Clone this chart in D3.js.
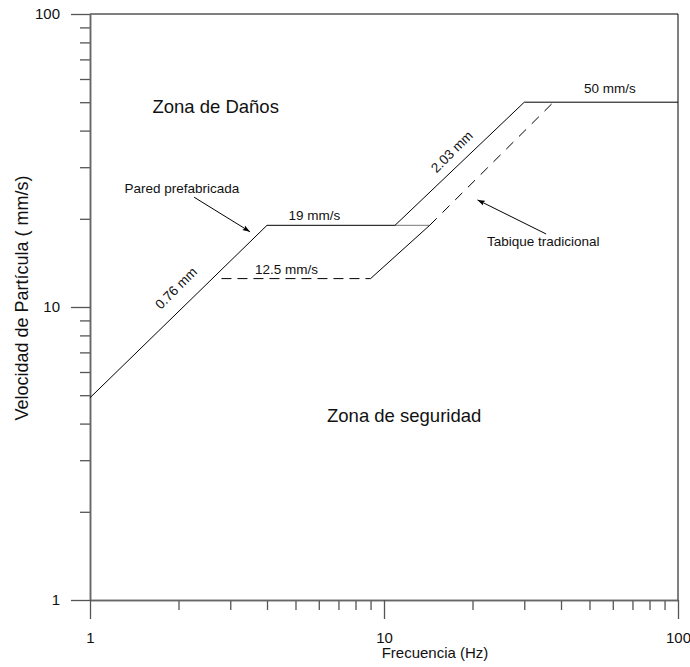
<!DOCTYPE html>
<html><head><meta charset="utf-8">
<script src="https://cdn.jsdelivr.net/npm/d3@7"></script>
<style>
body{margin:0;background:#fff}
text{font-family:"Liberation Sans",Arial,Helvetica,sans-serif;fill:#111}
</style>
</head><body>
<svg id="chart" width="690" height="667"></svg>
<script>
// ---- data ----
const xMajorTicks = [1, 10, 100];
const xMinorTicks = [2, 3, 4, 5, 6, 7, 8, 9, 20, 30, 40, 50, 60, 70, 80, 90];
const yMajorTicks = [1, 10, 100];
const yMinorTicks = [2, 3, 4, 5, 6, 7, 8, 9, 20, 30, 40, 50, 60, 70, 80, 90];

// Pared prefabricada (solid)
const prefabFreq = [1, 4, 10.9, 30, 100];
const prefabVel  = [4.9, 19, 19, 50, 50];

// Tabique tradicional
const tabDash1Freq = [2.8, 9];
const tabDash1Vel  = [12.5, 12.5];
const tabSolidFreq = [9, 14.3];
const tabSolidVel  = [12.5, 19];
const tabOverFreq  = [10.9, 14.3];
const tabOverVel   = [19, 19];
const tabDash2Freq = [14.3, 37.7];
const tabDash2Vel  = [19, 50];

// annotations (text, freq, vel)
const zoneLabels = [
  {t: "Zona de Daños", f: 1.63, v: 45.9},
  {t: "Zona de seguridad", f: 6.4, v: 4.05}
];
const lineLabels = [
  {t: "Pared prefabricada", f: 1.31, v: 24.4},
  {t: "19 mm/s", f: 4.73, v: 19.8},
  {t: "12.5 mm/s", f: 3.64, v: 12.96},
  {t: "50 mm/s", f: 47.9, v: 53.6},
  {t: "Tabique tradicional", f: 22.4, v: 16.2}
];
const slopeLabels = [
  {t: "0.76 mm", f: 1.96, v: 11.6},
  {t: "2.03 mm", f: 17.0, v: 33.9}
];
const arrows = [
  {f1: 2.26, v1: 23.7, f2: 3.50, v2: 18.07},
  {f1: 35.6, v1: 17.75, f2: 20.8, v2: 23.2}
];

// ---- drawing ----
const svg = d3.select("#chart");
const x = d3.scaleLog().domain([1, 100]).range([90, 678]);
const y = d3.scaleLog().domain([1, 100]).range([600, 14]);

svg.append("defs").append("marker")
  .attr("id", "ah").attr("viewBox", "0 -4 10 8")
  .attr("refX", 10).attr("refY", 0)
  .attr("markerWidth", 8).attr("markerHeight", 6)
  .attr("markerUnits", "userSpaceOnUse")
  .attr("orient", "auto")
  .append("path").attr("d", "M0,-3.5L10,0L0,3.5L2,0Z").attr("fill", "#000");

// frame top/right
svg.append("line").attr("x1", x(1)).attr("x2", x(100)).attr("y1", y(100)).attr("y2", y(100))
  .attr("stroke", "#000").attr("stroke-width", 1);
svg.append("line").attr("x1", x(100)).attr("x2", x(100)).attr("y1", y(100)).attr("y2", y(1))
  .attr("stroke", "#000").attr("stroke-width", 1);

function styleAxis(g) {
  g.select(".domain").attr("stroke", "#666").attr("stroke-width", 1.5);
  g.selectAll(".tick line").attr("stroke", "#555").attr("stroke-width", 1.3);
  g.selectAll(".tick text").attr("font-size", 15).attr("fill", "#111")
    .attr("font-family", '"Liberation Sans",Arial,sans-serif');
}

// y axis
svg.append("g").attr("transform", `translate(${x(1)},0)`)
  .call(d3.axisLeft(y).tickValues(yMinorTicks).tickSize(10).tickSizeOuter(0).tickFormat(""))
  .call(styleAxis);
svg.append("g").attr("transform", `translate(${x(1)},0)`)
  .call(d3.axisLeft(y).tickValues(yMajorTicks).tickSize(19).tickSizeOuter(0).tickPadding(11).tickFormat(d3.format("d")))
  .call(styleAxis);
// x axis
svg.append("g").attr("transform", `translate(0,${y(1)})`)
  .call(d3.axisBottom(x).tickValues(xMinorTicks).tickSize(10).tickSizeOuter(0).tickFormat(""))
  .call(styleAxis);
svg.append("g").attr("transform", `translate(0,${y(1)})`)
  .call(d3.axisBottom(x).tickValues(xMajorTicks).tickSize(19).tickSizeOuter(0).tickPadding(13).tickFormat(d3.format("d")))
  .call(styleAxis);

// axis titles
svg.append("text").attr("x", 435).attr("y", 658).attr("text-anchor", "middle")
  .attr("font-size", 15).text("Frecuencia (Hz)");
svg.append("text").attr("transform", "translate(28,298) rotate(-90)").attr("text-anchor", "middle")
  .attr("font-size", 18).text("Velocidad de Partícula ( mm/s)");

const line = d3.line().x(d => x(d[0])).y(d => y(d[1]));
const zip = (a, b) => a.map((v, i) => [v, b[i]]);

// overlap segment (gray)
svg.append("path").attr("d", line(zip(tabOverFreq, tabOverVel)))
  .attr("fill", "none").attr("stroke", "#777").attr("stroke-width", 1);
// prefab
svg.append("path").attr("d", line(zip(prefabFreq, prefabVel)))
  .attr("fill", "none").attr("stroke", "#000").attr("stroke-width", 1);
// tabique
svg.append("path").attr("d", line(zip(tabDash1Freq, tabDash1Vel)))
  .attr("fill", "none").attr("stroke", "#000").attr("stroke-width", 1).attr("stroke-dasharray", "10,6");
svg.append("path").attr("d", line(zip(tabSolidFreq, tabSolidVel)))
  .attr("fill", "none").attr("stroke", "#000").attr("stroke-width", 1);
svg.append("path").attr("d", line(zip(tabDash2Freq, tabDash2Vel)))
  .attr("fill", "none").attr("stroke", "#000").attr("stroke-width", 1).attr("stroke-dasharray", "10,8");

// arrows
arrows.forEach(a => {
  svg.append("line").attr("x1", x(a.f1)).attr("y1", y(a.v1)).attr("x2", x(a.f2)).attr("y2", y(a.v2))
    .attr("stroke", "#000").attr("stroke-width", 1).attr("marker-end", "url(#ah)");
});

// labels
zoneLabels.forEach(d => svg.append("text").attr("x", x(d.f)).attr("y", y(d.v))
  .attr("font-size", 18.5).text(d.t));
lineLabels.forEach(d => svg.append("text").attr("x", x(d.f)).attr("y", y(d.v))
  .attr("font-size", 13.5).text(d.t));
slopeLabels.forEach(d => svg.append("text")
  .attr("transform", `translate(${x(d.f)},${y(d.v)}) rotate(-45)`)
  .attr("text-anchor", "middle").attr("dy", "0.35em")
  .attr("font-size", 13.5).text(d.t));
</script>
</body></html>
